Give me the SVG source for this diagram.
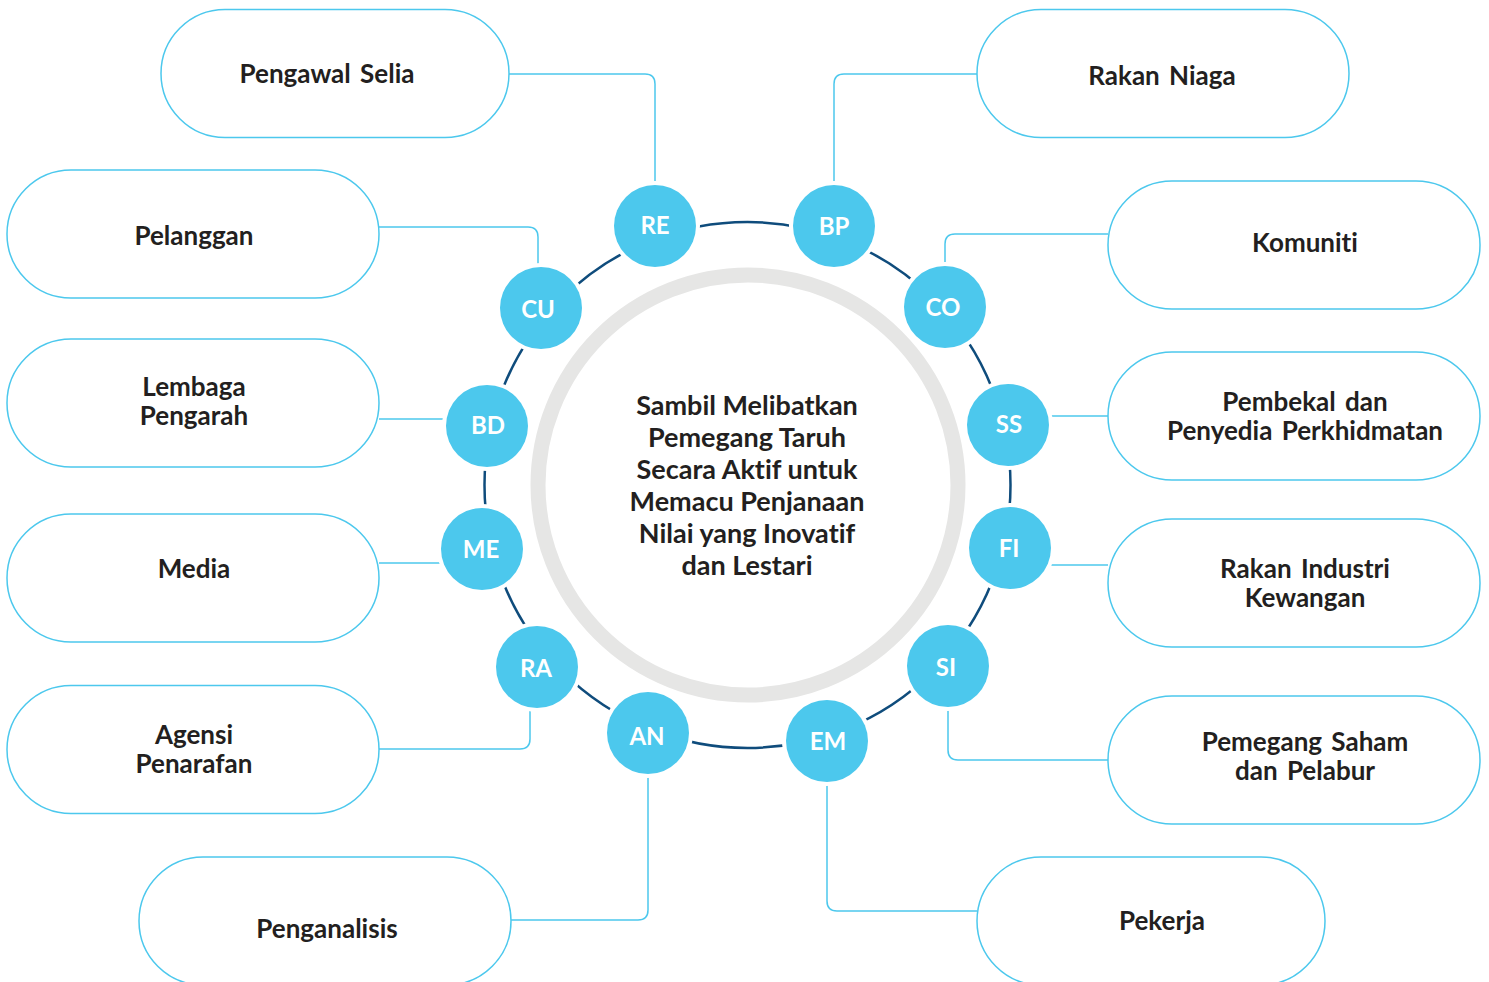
<svg xmlns="http://www.w3.org/2000/svg" width="1489" height="982" viewBox="0 0 1489 982">
<style>
text{font-variant-ligatures:none}
.pill{fill:#FFFFFF;stroke:#4CC8ED;stroke-width:1.5}
.lbl{font-family:Lato,"Liberation Sans",sans-serif;font-weight:700;font-size:26px;fill:#231F20;text-anchor:middle;word-spacing:3px}
.con{fill:none;stroke:#4CC8ED;stroke-width:1.5}
.dot{fill:#4CC8ED}
.halo{fill:#FFFFFF}
.code{font-family:Lato,"Liberation Sans",sans-serif;font-weight:700;font-size:24px;fill:#FFFFFF;text-anchor:middle}
.ctr{font-family:Lato,"Liberation Sans",sans-serif;font-weight:700;font-size:27px;fill:#231F20;text-anchor:middle}
</style>
<rect width="1489" height="982" fill="#FFFFFF"/>
<g id="ring">
<circle cx="748" cy="485" r="210" fill="none" stroke="#E6E6E5" stroke-width="15"/>
<circle cx="747.5" cy="485" r="263" fill="none" stroke="#0F4C7C" stroke-width="2.5"/>
</g>
<g id="center-text">
<text class="ctr" x="747" y="415">Sambil Melibatkan</text>
<text class="ctr" x="747" y="447">Pemegang Taruh</text>
<text class="ctr" x="747" y="479">Secara Aktif untuk</text>
<text class="ctr" x="747" y="511">Memacu Penjanaan</text>
<text class="ctr" x="747" y="543">Nilai yang Inovatif</text>
<text class="ctr" x="747" y="575">dan Lestari</text>
</g>
<g id="connectors">
<path class="con" d="M509,74 H645 Q655,74 655,84 V184"/>
<path class="con" d="M379,227 H528 Q538,227 538,237 V267"/>
<path class="con" d="M379,419 H446"/>
<path class="con" d="M379,563 H442"/>
<path class="con" d="M379,749 H520 Q530,749 530,739 V709"/>
<path class="con" d="M511,920 H638 Q648,920 648,910 V775"/>
<path class="con" d="M977,74 H844 Q834,74 834,84 V185"/>
<path class="con" d="M1108,234 H955 Q945,234 945,244 V266"/>
<path class="con" d="M1108,416 H1049"/>
<path class="con" d="M1108,565 H1050"/>
<path class="con" d="M1108,760 H958 Q948,760 948,750 V708"/>
<path class="con" d="M977,911 H837 Q827,911 827,901 V783"/>
</g>
<g id="node-RE"><circle class="halo" cx="655" cy="226" r="45"/><circle class="dot" cx="655" cy="226" r="41"/><text class="code" x="655" y="234">RE</text></g>
<g id="node-BP"><circle class="halo" cx="834" cy="226" r="45"/><circle class="dot" cx="834" cy="226" r="41"/><text class="code" x="834" y="235">BP</text></g>
<g id="node-CU"><circle class="halo" cx="541" cy="308" r="45"/><circle class="dot" cx="541" cy="308" r="41"/><text class="code" x="538" y="318">CU</text></g>
<g id="node-CO"><circle class="halo" cx="945" cy="307" r="45"/><circle class="dot" cx="945" cy="307" r="41"/><text class="code" x="943" y="316">CO</text></g>
<g id="node-BD"><circle class="halo" cx="487" cy="426" r="45"/><circle class="dot" cx="487" cy="426" r="41"/><text class="code" x="488" y="434">BD</text></g>
<g id="node-SS"><circle class="halo" cx="1008" cy="425" r="45"/><circle class="dot" cx="1008" cy="425" r="41"/><text class="code" x="1009" y="433">SS</text></g>
<g id="node-ME"><circle class="halo" cx="482" cy="549" r="45"/><circle class="dot" cx="482" cy="549" r="41"/><text class="code" x="481" y="558">ME</text></g>
<g id="node-FI"><circle class="halo" cx="1010" cy="548" r="45"/><circle class="dot" cx="1010" cy="548" r="41"/><text class="code" x="1009" y="557">FI</text></g>
<g id="node-RA"><circle class="halo" cx="537" cy="667" r="45"/><circle class="dot" cx="537" cy="667" r="41"/><text class="code" x="536" y="677">RA</text></g>
<g id="node-SI"><circle class="halo" cx="948" cy="666" r="45"/><circle class="dot" cx="948" cy="666" r="41"/><text class="code" x="946" y="676">SI</text></g>
<g id="node-AN"><circle class="halo" cx="648" cy="733" r="45"/><circle class="dot" cx="648" cy="733" r="41"/><text class="code" x="647" y="745">AN</text></g>
<g id="node-EM"><circle class="halo" cx="827" cy="741" r="45"/><circle class="dot" cx="827" cy="741" r="41"/><text class="code" x="828" y="750">EM</text></g>
<g id="box-pengawal-selia"><rect class="pill" x="161" y="9.5" width="348" height="128" rx="64"/><text class="lbl" x="327" y="83">Pengawal Selia</text></g>
<g id="box-pelanggan"><rect class="pill" x="7" y="170" width="372" height="128" rx="64"/><text class="lbl" x="194" y="245">Pelanggan</text></g>
<g id="box-lembaga-pengarah"><rect class="pill" x="7" y="339" width="372" height="128" rx="64"/><text class="lbl" x="194" y="396">Lembaga</text><text class="lbl" x="194" y="425">Pengarah</text></g>
<g id="box-media"><rect class="pill" x="7" y="514" width="372" height="128" rx="64"/><text class="lbl" x="194" y="578">Media</text></g>
<g id="box-agensi-penarafan"><rect class="pill" x="7" y="685.5" width="372" height="128" rx="64"/><text class="lbl" x="194" y="744">Agensi</text><text class="lbl" x="194" y="773">Penarafan</text></g>
<g id="box-penganalisis"><rect class="pill" x="139" y="857" width="372" height="128" rx="64"/><text class="lbl" x="327" y="938">Penganalisis</text></g>
<g id="box-rakan-niaga"><rect class="pill" x="977" y="9.5" width="372" height="128" rx="64"/><text class="lbl" x="1162" y="85">Rakan Niaga</text></g>
<g id="box-komuniti"><rect class="pill" x="1108" y="181" width="372" height="128" rx="64"/><text class="lbl" x="1305" y="252">Komuniti</text></g>
<g id="box-pembekal"><rect class="pill" x="1108" y="352" width="372" height="128" rx="64"/><text class="lbl" x="1305" y="411">Pembekal dan</text><text class="lbl" x="1305" y="440">Penyedia Perkhidmatan</text></g>
<g id="box-rakan-industri"><rect class="pill" x="1108" y="519" width="372" height="128" rx="64"/><text class="lbl" x="1305" y="578">Rakan Industri</text><text class="lbl" x="1305" y="607">Kewangan</text></g>
<g id="box-pemegang-saham"><rect class="pill" x="1108" y="696" width="372" height="128" rx="64"/><text class="lbl" x="1305" y="751">Pemegang Saham</text><text class="lbl" x="1305" y="780">dan Pelabur</text></g>
<g id="box-pekerja"><rect class="pill" x="977" y="857" width="348" height="128" rx="64"/><text class="lbl" x="1162" y="930">Pekerja</text></g>
</svg>
